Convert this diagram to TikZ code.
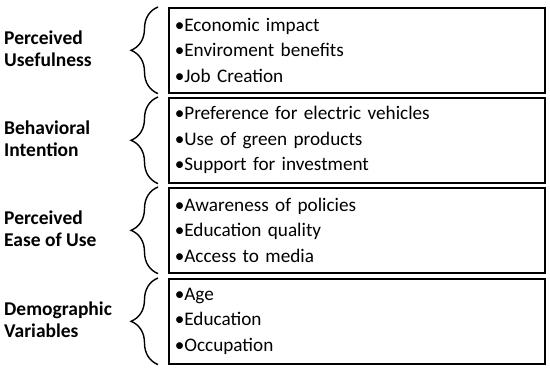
\documentclass[tikz,border=0pt]{standalone}
\usepackage{fontspec}
\setmainfont{Carlito}
\usetikzlibrary{decorations.pathreplacing}

\tikzset{
  itembox/.style={draw, line width=1.6pt, anchor=north west, minimum width=376pt, minimum height=85pt,
    text width=364pt, inner xsep=6pt, align=left, font=\fontsize{19.2}{25.5}\selectfont},
  factor/.style={anchor=west, align=left, inner sep=0pt, font=\fontsize{19.5}{22}\selectfont\bfseries},
  curly/.style={decorate, decoration={brace, amplitude=27pt}, line width=1.4pt}
}

\begin{document}
\begin{tikzpicture}[x=1pt, y=-1pt]
        \useasboundingbox (0,0) rectangle (550,372);

        % Boxes
        \node[itembox] (ubox) at (168,7) {•Economic impact\\•Enviroment benefits\\•Job Creation};
        \node[itembox] (ibox) at (168,97) {•Preference for electric vehicles\\•Use of green products\\•Support for investment};
        \node[itembox] (ebox) at (168,187) {•Awareness of policies\\•Education quality\\•Access to media};
        \node[itembox] (dbox) at (168,278) {•Age\\•Education\\•Occupation};

        % Factors
        \node[factor] (useful) at (4,49) {Perceived\\Usefulness};
        \node[factor] (intent) at (4,139) {Behavioral\\Intention};
        \node[factor] (ease) at (4,229) {Perceived\\Ease of Use};
        \node[factor] (demo) at (4,320) {Demographic\\Variables};

        % Braces
        \foreach \b in {ubox, ibox, ebox, dbox}
            \draw[curly] ([xshift=-10pt]\b.south west) -- ([xshift=-10pt]\b.north west);
    \end{tikzpicture}
\end{document}
